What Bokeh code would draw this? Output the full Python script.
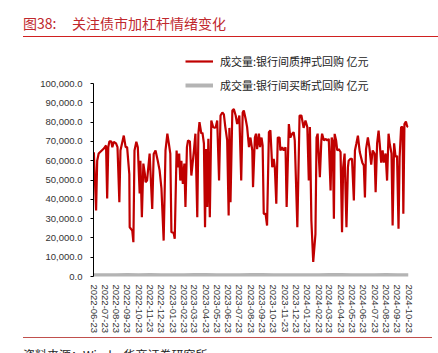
import pandas as pd
from bokeh.plotting import figure
from bokeh.layouts import column
from bokeh.models import (Range1d, Legend, LegendItem, FixedTicker, Div,
                          DatetimeTickFormatter, NumeralTickFormatter, ColumnDataSource)
from bokeh.embed import file_html
from bokeh.resources import INLINE

# ---------------- data ----------------
title_no = "图38:"
title_text = "关注债市加杠杆情绪变化"
source_text = "资料来源：Wind，华商证券研究所"
series_names = ["成交量:银行间质押式回购 亿元", "成交量:银行间买断式回购 亿元"]

tick_labels = [
    "2022-06-23", "2022-07-23", "2022-08-23", "2022-09-23", "2022-10-23", "2022-11-23",
    "2022-12-23", "2023-01-23", "2023-02-23", "2023-03-23", "2023-04-23", "2023-05-23",
    "2023-06-23", "2023-07-23", "2023-08-23", "2023-09-23", "2023-10-23", "2023-11-23",
    "2023-12-23", "2024-01-23", "2024-02-23", "2024-03-23", "2024-04-23", "2024-05-23",
    "2024-06-23", "2024-07-23", "2024-08-23", "2024-09-23", "2024-10-23",
]
y_ticks = [0, 10000, 20000, 30000, 40000, 50000, 60000, 70000, 80000, 90000, 100000]

pledged_dates = [
    "2022-06-24", "2022-06-30", "2022-07-03", "2022-07-07", "2022-07-21", "2022-07-27",
    "2022-07-30", "2022-08-02", "2022-08-05", "2022-08-10", "2022-08-13", "2022-08-17",
    "2022-08-23", "2022-08-27", "2022-09-01", "2022-09-04", "2022-09-13", "2022-09-18",
    "2022-09-22", "2022-09-28", "2022-09-29", "2022-10-06", "2022-10-09", "2022-10-12",
    "2022-10-17", "2022-10-21", "2022-10-26", "2022-10-28", "2022-11-01", "2022-11-05",
    "2022-11-09", "2022-11-11", "2022-11-15", "2022-11-22", "2022-11-29", "2022-12-03",
    "2022-12-08", "2022-12-14", "2022-12-19", "2022-12-24", "2022-12-30", "2023-01-04",
    "2023-01-09", "2023-01-13", "2023-01-17", "2023-01-20", "2023-01-26", "2023-01-29",
    "2023-02-03", "2023-02-06", "2023-02-10", "2023-02-13", "2023-02-16", "2023-02-20",
    "2023-02-24", "2023-02-27", "2023-03-03", "2023-03-06", "2023-03-11", "2023-03-15",
    "2023-03-22", "2023-03-26", "2023-03-31", "2023-04-03", "2023-04-06", "2023-04-11",
    "2023-04-14", "2023-04-18", "2023-04-21", "2023-04-24", "2023-04-27", "2023-04-30",
    "2023-05-04", "2023-05-08", "2023-05-13", "2023-05-17", "2023-05-20", "2023-05-24",
    "2023-05-29", "2023-06-02", "2023-06-07", "2023-06-11", "2023-06-15", "2023-06-20",
    "2023-06-24", "2023-06-26", "2023-06-29", "2023-07-04", "2023-07-08", "2023-07-13",
    "2023-07-17", "2023-07-20", "2023-07-23", "2023-07-28", "2023-08-01", "2023-08-04",
    "2023-08-09", "2023-08-13", "2023-08-18", "2023-08-22", "2023-08-27", "2023-08-29",
    "2023-09-03", "2023-09-06", "2023-09-09", "2023-09-14", "2023-09-17", "2023-09-21",
    "2023-09-24", "2023-09-27", "2023-10-02", "2023-10-06", "2023-10-11", "2023-10-15",
    "2023-10-20", "2023-10-24", "2023-10-27", "2023-10-31", "2023-11-04", "2023-11-09",
    "2023-11-11", "2023-11-16", "2023-11-20", "2023-11-25", "2023-11-28", "2023-12-04",
    "2023-12-08", "2023-12-13", "2023-12-17", "2023-12-20", "2023-12-27", "2024-01-02",
    "2024-01-07", "2024-01-13", "2024-01-18", "2024-01-23", "2024-01-27", "2024-01-30",
    "2024-02-03", "2024-02-08", "2024-02-14", "2024-02-17", "2024-02-20", "2024-02-26",
    "2024-03-01", "2024-03-03", "2024-03-08", "2024-03-12", "2024-03-17", "2024-03-21",
    "2024-03-26", "2024-03-29", "2024-04-01", "2024-04-04", "2024-04-06", "2024-04-10",
    "2024-04-13", "2024-04-17", "2024-04-22", "2024-04-26", "2024-04-29", "2024-05-03",
    "2024-05-08", "2024-05-12", "2024-05-14", "2024-05-19", "2024-05-23", "2024-05-28",
    "2024-05-31", "2024-06-04", "2024-06-08", "2024-06-13", "2024-06-20", "2024-06-24",
    "2024-06-27", "2024-06-30", "2024-07-05", "2024-07-09", "2024-07-14", "2024-07-18",
    "2024-07-23", "2024-07-26", "2024-07-30", "2024-08-03", "2024-08-06", "2024-08-10",
    "2024-08-14", "2024-08-17", "2024-08-22", "2024-08-26", "2024-08-30", "2024-09-02",
    "2024-09-07", "2024-09-10", "2024-09-14", "2024-09-18", "2024-09-22", "2024-09-26",
    "2024-09-29", "2024-10-03", "2024-10-07", "2024-10-09", "2024-10-12", "2024-10-16",
    "2024-10-19", "2024-10-22",
]

pledged_values = [
    64400, 34200, 60000, 63700, 66300, 67900,
    40400, 67000, 70000, 70000, 67000, 69800,
    69000, 67000, 38500, 65300, 73000, 67000,
    67000, 53000, 25500, 23800, 17800, 65300,
    69800, 67000, 43000, 60000, 30700, 58500,
    53300, 48900, 49700, 63700, 35000, 63500,
    65300, 60000, 55000, 45600, 18600, 65300,
    74000, 69000, 63700, 23000, 22500, 19600,
    65300, 56600, 63700, 49700, 60000, 48000,
    58500, 36000, 67000, 70500, 70000, 52300,
    65300, 74000, 30700, 74000, 80000, 74000,
    74500, 68900, 25500, 66000, 36000, 71300,
    30700, 80800, 77400, 77000, 77400, 80800,
    49700, 83400, 85000, 84000, 77400, 70500,
    31600, 77000, 38500, 86000, 86700, 83400,
    79000, 80800, 83400, 49700, 85000, 86000,
    81600, 77400, 67000, 72000, 65300, 46300,
    72000, 74000, 66000, 74000, 67000, 72000,
    67900, 32500, 32500, 26400, 74800, 75700,
    56600, 60900, 56600, 37700, 72000, 72000,
    65300, 67000, 65300, 67000, 36000, 79000,
    72000, 74000, 74800, 70500, 25500, 83400,
    83400, 77000, 80800, 77400, 49700, 77400,
    29000, 7500, 22000, 72000, 74000, 51400,
    70500, 74000, 70500, 71300, 70500, 71300,
    44600, 72000, 69500, 29900, 73900, 70500,
    65300, 66000, 64500, 23000, 56600, 63700,
    25500, 56600, 60000, 61000, 61000, 39400,
    65300, 69000, 73000, 64500, 59000, 57500,
    41000, 66000, 72000, 67000, 58000, 65300,
    63700, 43700, 69000, 75600, 69000, 59000,
    65300, 59000, 63700, 49700, 74000, 69000,
    63700, 26400, 69000, 62000, 62500, 24700,
    62000, 77400, 77400, 32500, 79000, 80300,
    78000, 77400,
]

# outright repo volume: tiny on this scale, shows as a band along zero
outright_dates = tick_labels
outright_values = [
    600, 700, 650, 800, 700, 750, 600, 650, 700, 800, 750, 700, 650, 700, 750,
    800, 700, 650, 600, 700, 650, 750, 800, 700, 650, 700, 750, 700, 650,
]

# ---------------- styles ----------------
CJK = "Noto Sans CJK SC"
NUM = "Liberation Sans"
TITLE_RED = "#C0282D"
RULE_TOP = "#D02020"
RULE_BOTTOM = "#C0504D"

# ---------------- header ----------------
header = Div(
    text=(
        f'<div style="position:relative;width:415px;height:37px;margin-left:23px;'
        f'border-bottom:1px solid {RULE_TOP};font-family:\'{CJK}\';font-size:14px;'
        f'color:{TITLE_RED};">'
        f'<span style="position:absolute;left:0;top:14px;line-height:18px;white-space:nowrap">{title_no}</span>'
        f'<span style="position:absolute;left:49px;top:14px;line-height:18px;white-space:nowrap">{title_text}</span>'
        f'</div>'
    ),
    width=438, height=38, margin=0,
)

# ---------------- figure ----------------
to_dt = pd.to_datetime
x_start = to_dt(tick_labels[0])
x_end = to_dt(tick_labels[-1])
frame_top_extra = 225 / 193  # room above 100,000 for the legend

p = figure(width=438, height=299, output_backend="svg", toolbar_location=None,
           x_axis_type="datetime",
           x_range=Range1d(x_start, x_end),
           y_range=Range1d(0, y_ticks[-1] * frame_top_extra),
           min_border_left=93, min_border_right=30, min_border_top=13, min_border_bottom=61,
           margin=0)
p.outline_line_color = None
p.grid.visible = False
p.background_fill_color = "white"
p.border_fill_color = "white"

src_a = ColumnDataSource(dict(x=to_dt(pledged_dates), y=pledged_values))
src_b = ColumnDataSource(dict(x=to_dt(outright_dates), y=outright_values))

r_b = p.line("x", "y", source=src_b, line_color="#B4B4B4", line_width=4)
r_a = p.line("x", "y", source=src_a, line_color="#C00000", line_width=2.2)

yax = p.yaxis[0]
yax.formatter = NumeralTickFormatter(format="0,0.0")
yax.ticker = FixedTicker(ticks=y_ticks)
yax.bounds = (y_ticks[0], y_ticks[-1])
yax.axis_line_color = "black"
yax.axis_line_width = 1
yax.major_tick_out = 3
yax.major_tick_in = 0
yax.major_tick_line_color = "black"
yax.minor_tick_line_color = None
yax.major_label_text_font = NUM
yax.major_label_text_font_size = "9.5px"
yax.major_label_text_color = "#333333"
yax.major_label_standoff = 8

tick_ms = [to_dt(t).value / 1e6 for t in tick_labels]
xax = p.xaxis[0]
xax.ticker = FixedTicker(ticks=tick_ms)
fmt = "%Y-%m-%d"
xax.formatter = DatetimeTickFormatter(days=fmt, months=fmt, years=fmt, hours=fmt,
                                      hourmin=fmt, minutes=fmt, minsec=fmt,
                                      seconds=fmt, milliseconds=fmt, microseconds=fmt)
xax.major_label_orientation = "vertical"
xax.axis_line_color = None
xax.major_tick_line_color = None
xax.minor_tick_line_color = None
xax.major_label_text_font = NUM
xax.major_label_text_font_size = "9.5px"
xax.major_label_text_color = "#333333"
xax.major_label_standoff = 2

# legend: (x, y) is its bottom-left corner, measured from the frame's bottom-left
legend = Legend(items=[LegendItem(label=series_names[0], renderers=[r_a]),
                       LegendItem(label=series_names[1], renderers=[r_b])],
                location=(92, 181), orientation="vertical",
                glyph_width=28, glyph_height=20, label_height=20, spacing=4,
                padding=0, margin=0, label_standoff=7,
                border_line_color=None, background_fill_alpha=0,
                label_text_font=CJK, label_text_font_size="11px",
                label_text_color="#222222")
p.add_layout(legend)

# ---------------- footer ----------------
footer = Div(
    text=(
        f'<div style="position:relative;width:409px;height:15px;margin-left:23px;'
        f'border-top:1px solid {RULE_BOTTOM};font-family:\'{CJK}\';font-size:12px;color:#222;">'
        f'<span style="position:absolute;left:0;top:9px;line-height:16px;white-space:nowrap">{source_text}</span>'
        f'</div>'
    ),
    width=438, height=16, margin=0,
)

page = column(header, p, footer, spacing=0, margin=0)
open("out.html", "w").write(file_html(page, INLINE))
